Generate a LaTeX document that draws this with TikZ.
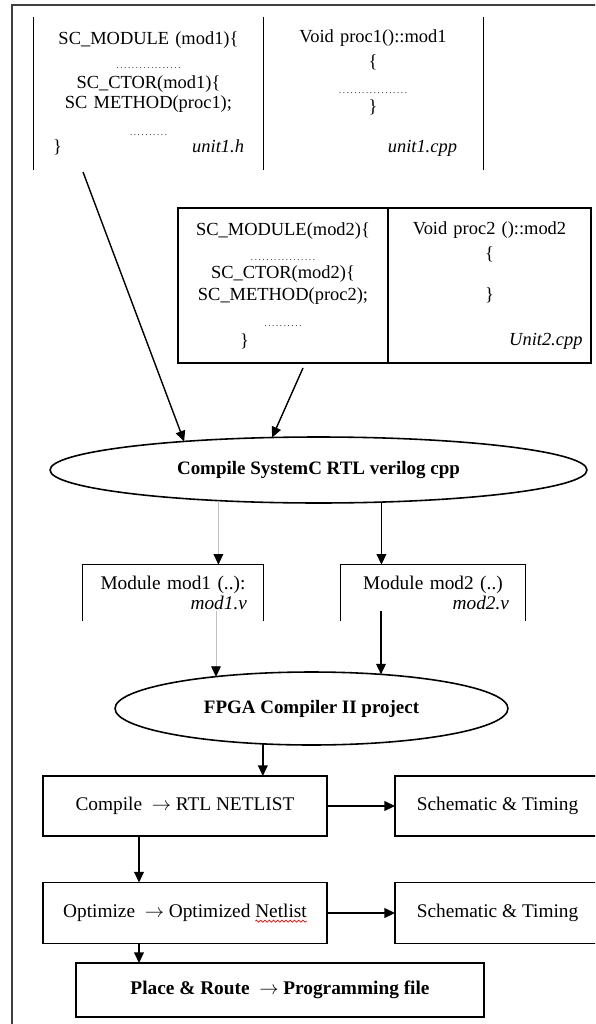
\documentclass[tikz,border=0pt]{standalone}
\usepackage{fontspec}
\setmainfont{Liberation Serif}
\usetikzlibrary{arrows.meta,shapes.geometric,calc,decorations.pathmorphing}
\newcommand{\dotrow}[1]{{\tiny\makebox[#1]{\dotfill}}}
\newcommand{\optlabel}{Optimize \ $\rightarrow$ Optimized Netlist}
\newlength{\optw}
\newlength{\netw}

\begin{document}
\settowidth{\optw}{\fontsize{11}{13}\selectfont\optlabel}
\settowidth{\netw}{\fontsize{11}{13}\selectfont Netlist}
\begin{tikzpicture}[x=0.02cm,y=-0.02cm,
    code/.style={align=center,font=\fontsize{10.5}{11.4}\selectfont,inner sep=0pt},
    modtext/.style={align=center,font=\fontsize{11}{11.4}\selectfont,inner sep=0pt},
    stage/.style={ellipse,draw,line width=0.9pt,inner sep=0pt,outer sep=0pt,font=\fontsize{10.8}{13}\selectfont\bfseries},
    box/.style={draw,line width=0.9pt,inner sep=0pt,outer sep=0pt,font=\fontsize{11}{13}\selectfont},
    arr/.style={-{Triangle[length=6pt,width=5.5pt]},line width=0.8pt},
    garr/.style={-{Triangle[length=6pt,width=5.5pt,color=black]},gray!50,line width=0.5pt},
    spellwave/.style={red,line width=0.4pt,decorate,decoration={snake,amplitude=0.6pt,segment length=2.4pt}}]
    \useasboundingbox (0,0) rectangle (595,1024);
    \clip (0,0) rectangle (595,1024);
    %draw frame
    \draw[line width=1.2pt,black!75] (12,1030) -- (12,5) -- (600,5);

    %draw unit1 files
    \node[code,text width=3.82cm,minimum width=4.58cm,minimum height=3.06cm] (unith) at (148.5,93.5)
        {SC\_MODULE (mod1)\{\\[2.3pt] \dotrow{1.34cm}\\ SC\_CTOR(mod1)\{\\ SC METHOD(proc1);\\[4pt] \dotrow{0.84cm}\\[-1.7pt] \}\hfill\textit{unit1.h}};
    \node[code,text width=3.36cm,minimum width=4.4cm,minimum height=3.06cm] (unitcpp) at (373,93.5)
        {Void proc1()::mod1\\[2.8pt] \{\\[3.4pt] \dotrow{1.46cm}\\[-0.6pt] \}\\[11.4pt] \hfill\textit{unit1.cpp}};
    \draw[line width=0.9pt] (unith.north west) -- (unith.south west);
    \draw[line width=0.9pt] (unith.north east) -- (unith.south east);
    \draw[line width=0.9pt] (unitcpp.north east) -- (unitcpp.south east);

    %draw unit2 files
    \node[box,code,text width=3.8cm,minimum width=4.2cm,minimum height=3.1cm] (unittwoh) at (283,285.5)
        {SC\_MODULE(mod2)\{\\[2.8pt] \dotrow{1.38cm}\\[-1.1pt] SC\_CTOR(mod2)\{\\[1.1pt] SC\_METHOD(proc2);\\[3.4pt] \dotrow{0.82cm}\\ \makebox[1.72cm][l]{\}}};
    \node[box,code,text width=3.72cm,minimum width=4.06cm,minimum height=3.1cm] (unittwocpp) at (489.5,285.5)
        {Void proc2 ()::mod2\\[2.8pt] \{\\[12pt] \}\\[14.2pt] \hfill\textit{Unit2.cpp}};

    %draw compile steps
    \node[stage,minimum width=10.74cm,minimum height=1.32cm] (sysc) at (318.5,470) {Compile SystemC RTL verilog cpp};
    \node[modtext,text width=2.96cm,minimum width=3.6cm,minimum height=1.12cm] (modone) at (173,593)
        {Module mod1 (..):\\ \hfill\textit{mod1.v}};
    \node[modtext,text width=3.04cm,minimum width=3.68cm,minimum height=1.12cm] (modtwo) at (433,593)
        {Module mod2 (..)\\ \hfill\textit{mod2.v}};
    \draw[line width=0.9pt] (modone.south west) -- (modone.north west) -- (modone.north east) -- (modone.south east);
    \draw[line width=0.9pt] (modtwo.south west) -- (modtwo.north west) -- (modtwo.north east) -- (modtwo.south east);
    \node[stage,minimum width=7.86cm,minimum height=1.46cm] (fpga) at (311.5,708.5) {FPGA Compiler II project};

    \node[box,minimum width=5.68cm,minimum height=1.2cm] (rtl) at (185,806) {Compile \ $\rightarrow$ RTL NETLIST};
    \node[box,minimum width=4.1cm,minimum height=1.2cm] (schone) at (497.5,806) {Schematic \& Timing};
    \node[box,minimum width=5.68cm,minimum height=1.22cm] (opt) at (185,913) {\optlabel};
    \draw[spellwave] ($(opt.base)+(0.5\optw-\netw,-2pt)$) -- ($(opt.base)+(0.5\optw,-2pt)$);
    \node[box,minimum width=4.1cm,minimum height=1.22cm] (schtwo) at (497.5,913) {Schematic \& Timing};
    \node[box,minimum width=8.16cm,minimum height=1.08cm,font=\fontsize{11}{13}\selectfont\bfseries] (prog) at (280,990)
        {Place \& Route \ $\rightarrow$ Programming file};

    %draw arrows
    \coordinate (hout) at (83,172);
    \coordinate (htwoout) at (303,368);
    \draw[arr] (hout) -- (sysc.168);
    \draw[arr] (htwoout) -- (sysc.145);
    \draw[garr] (sysc.197) -- (sysc.197 |- modone.north);
    \draw[arr] (sysc.333) -- (sysc.333 |- modtwo.north);
    \coordinate (moneout) at (216,611);
    \coordinate (mtwoout) at (381,611);
    \draw[garr] (moneout) -- (moneout |- fpga.162);
    \draw[arr] (mtwoout) -- (mtwoout |- fpga.26);
    \draw[arr] (fpga.216) -- (fpga.216 |- rtl.north);
    \draw[arr] (rtl) -- (schone);
    \draw[arr] (opt) -- (schtwo);
    \coordinate (rout) at ($(rtl.south)+(-46,0)$);
    \draw[arr] (rout) -- (rout |- opt.north);
    \coordinate (oout) at ($(opt.south)+(-46,0)$);
    \draw[arr] (oout) -- (oout |- prog.north);
\end{tikzpicture}
\end{document}
